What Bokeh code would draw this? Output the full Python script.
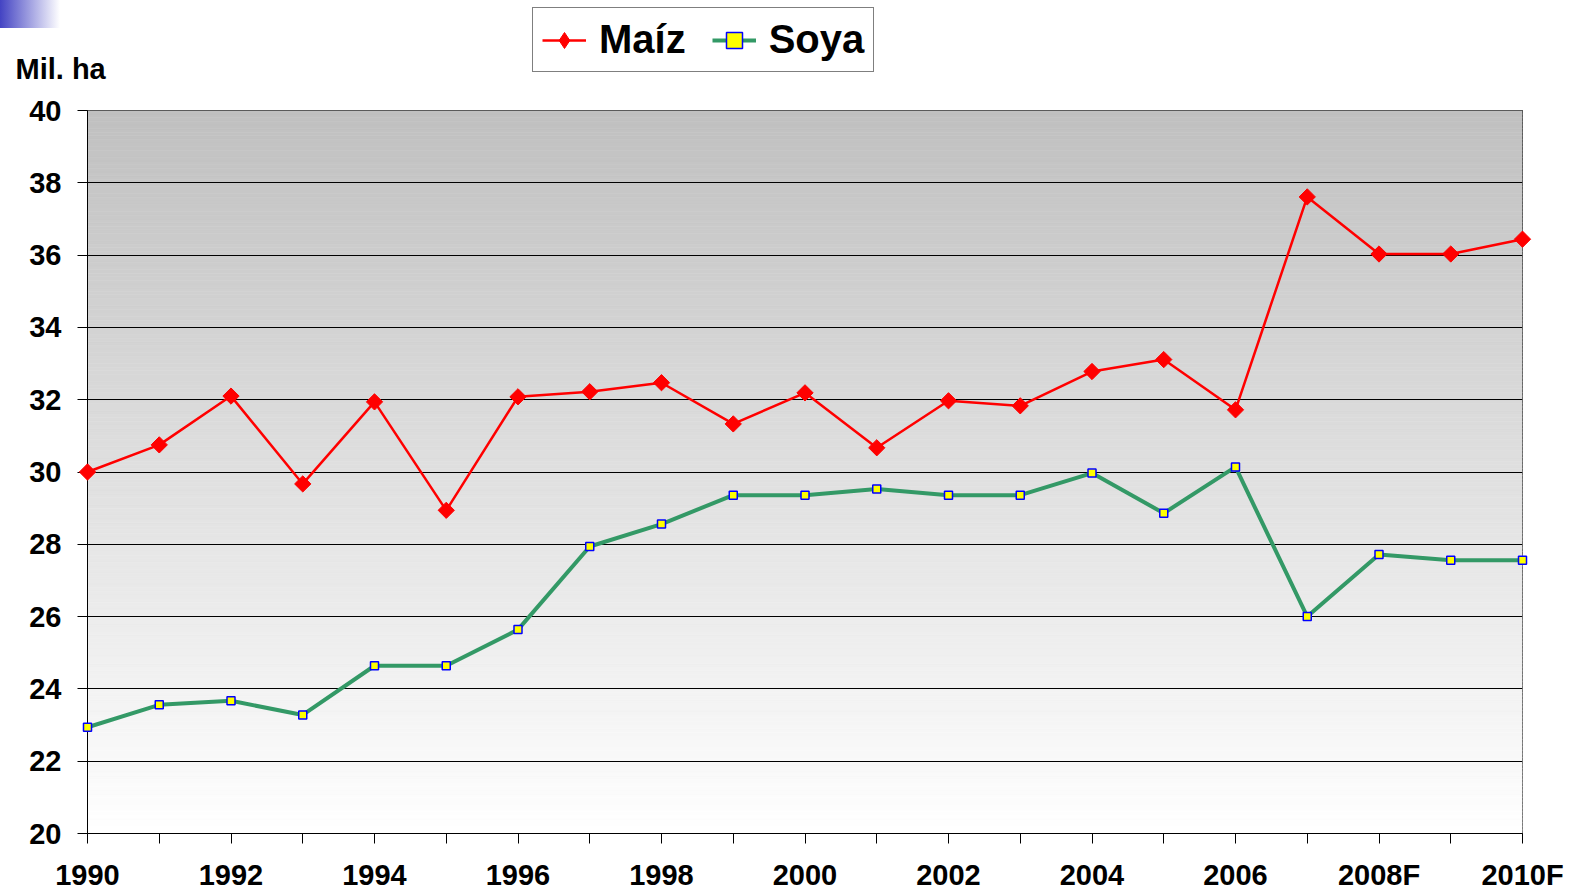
import numpy as np
from bokeh.plotting import figure
from bokeh.layouts import column, row
from bokeh.models import FixedTicker, Legend, LegendItem, Label, ColumnDataSource
from bokeh.embed import file_html
from bokeh.resources import INLINE

# ---- data ----
year_labels = ["1990", "1991", "1992", "1993", "1994", "1995", "1996", "1997",
               "1998", "1999", "2000", "2001", "2002", "2003", "2004", "2005",
               "2006", "2007", "2008F", "2009F", "2010F"]
maiz = [30.0, 30.75, 32.1, 29.67, 31.94, 28.94, 32.08, 32.22, 32.47, 31.33,
        32.19, 30.67, 31.97, 31.83, 32.78, 33.11, 31.72, 37.61, 36.03, 36.03, 36.44]
soya = [22.94, 23.56, 23.67, 23.28, 24.64, 24.64, 25.64, 27.94, 28.56, 29.36,
        29.36, 29.53, 29.36, 29.36, 29.97, 28.86, 30.14, 26.0, 27.72, 27.56, 27.56]
y_ticks = [20, 22, 24, 26, 28, 30, 32, 34, 36, 38, 40]
series_names = ["Maíz", "Soya"]
unit_label = "Mil. ha"

x = list(range(len(year_labels)))
FONT = "Liberation Sans"
W = 1579
TOP_H = 96
MAIN_H = 893 - TOP_H

MAIZ_COLOR = "#ff0000"
SOYA_COLOR = "#339966"

# ---------------- header strip (legend + unit label) ----------------
top = figure(width=W, height=TOP_H, x_range=(0, W), y_range=(0, TOP_H),
             output_backend="svg", toolbar_location=None,
             x_axis_type=None, y_axis_type=None,
             min_border_left=0, min_border_right=0, min_border_top=0, min_border_bottom=0)
top.grid.visible = False
top.outline_line_color = None
top.background_fill_color = None
top.border_fill_color = None
top.styles = {"background": "linear-gradient(to right, #4343c3, #ffffff) 0 0 / 60px 28px no-repeat, #ffffff"}

nan = [float("nan")]
k1l = top.line(x=nan, y=nan, line_color=MAIZ_COLOR, line_width=2.5)
k1m = top.scatter(x=nan, y=nan, marker="diamond", size=19,
                  fill_color=MAIZ_COLOR, line_color=MAIZ_COLOR)
k2l = top.line(x=nan, y=nan, line_color=SOYA_COLOR, line_width=4)
k2m = top.scatter(x=nan, y=nan, marker="square", size=8, fill_color="#ffff00",
                  line_color="#0000ff", line_width=1.5)

legend = Legend(items=[LegendItem(label=series_names[0], renderers=[k1l, k1m]),
                       LegendItem(label=series_names[1], renderers=[k2l, k2m])],
                location=(532, TOP_H - 72), orientation="horizontal")
legend.label_text_font = FONT
legend.label_text_font_style = "bold"
legend.label_text_font_size = "40px"
legend.label_text_color = "black"
legend.glyph_width = 44
legend.glyph_height = 40
legend.label_standoff = 13
legend.spacing = 26
legend.padding = 9
legend.margin = 0
legend.border_line_color = "black"
legend.border_line_width = 1
legend.background_fill_color = "white"
legend.background_fill_alpha = 1
top.add_layout(legend)

top.add_layout(Label(x=15, y=TOP_H - 68, text=unit_label, text_font=FONT,
                     text_font_style="bold", text_font_size="29px",
                     text_color="black", text_baseline="middle"))

# ---------------- main chart ----------------
p = figure(width=W, height=MAIN_H, x_range=(0, len(year_labels) - 1),
           y_range=(y_ticks[0], y_ticks[-1]), output_backend="svg",
           toolbar_location=None, min_border_left=87, min_border_right=57,
           min_border_top=110 - TOP_H, min_border_bottom=59)
p.border_fill_color = "white"

# plot-area vertical gradient background
n = 200
edges = np.linspace(y_ticks[0], y_ticks[-1], n + 1)
centers = (edges[:-1] + edges[1:]) / 2
frac = (centers - y_ticks[0]) / (y_ticks[-1] - y_ticks[0])
vals = np.round(255 - frac * (255 - 192)).astype(int)
cols = ["#%02x%02x%02x" % (v, v, v) for v in vals]
bg = ColumnDataSource(dict(y=centers, c=cols))
p.hbar(y="y", height=(edges[1] - edges[0]), left=0, right=len(year_labels) - 1,
       fill_color="c", line_color="c", line_width=0.6, source=bg, level="image")

p.background_fill_color = "white"
p.outline_line_color = "black"
p.outline_line_width = 1

p.xgrid.visible = False
p.ygrid.ticker = FixedTicker(ticks=y_ticks)
p.ygrid.grid_line_color = "black"
p.ygrid.grid_line_width = 1

p.yaxis.ticker = FixedTicker(ticks=y_ticks)
p.xaxis.ticker = FixedTicker(ticks=x)
p.xaxis.major_label_overrides = {i: (lab if i % 2 == 0 else "") for i, lab in enumerate(year_labels)}
for ax in (p.xaxis[0], p.yaxis[0]):
    ax.axis_line_color = "black"
    ax.axis_line_width = 1
    ax.major_tick_line_color = "black"
    ax.major_tick_line_width = 1
    ax.major_tick_in = 0
    ax.major_tick_out = 10
    ax.minor_tick_line_color = None
    ax.major_label_text_font = FONT
    ax.major_label_text_font_style = "bold"
    ax.major_label_text_font_size = "29px"
    ax.major_label_text_color = "black"
p.xaxis.major_label_standoff = 15
p.yaxis.major_label_standoff = 16

p.line(x, maiz, line_color=MAIZ_COLOR, line_width=2.5)
p.scatter(x, maiz, marker="square", angle=np.pi / 4, size=11.5,
          fill_color=MAIZ_COLOR, line_color=MAIZ_COLOR, level="overlay")
p.line(x, soya, line_color=SOYA_COLOR, line_width=4)
p.scatter(x, soya, marker="square", size=8, fill_color="#ffff00",
          line_color="#0000ff", line_width=1.5, level="overlay")

layout = column(row(top, spacing=0), p, spacing=0)
open("out.html", "w").write(file_html(layout, INLINE))
